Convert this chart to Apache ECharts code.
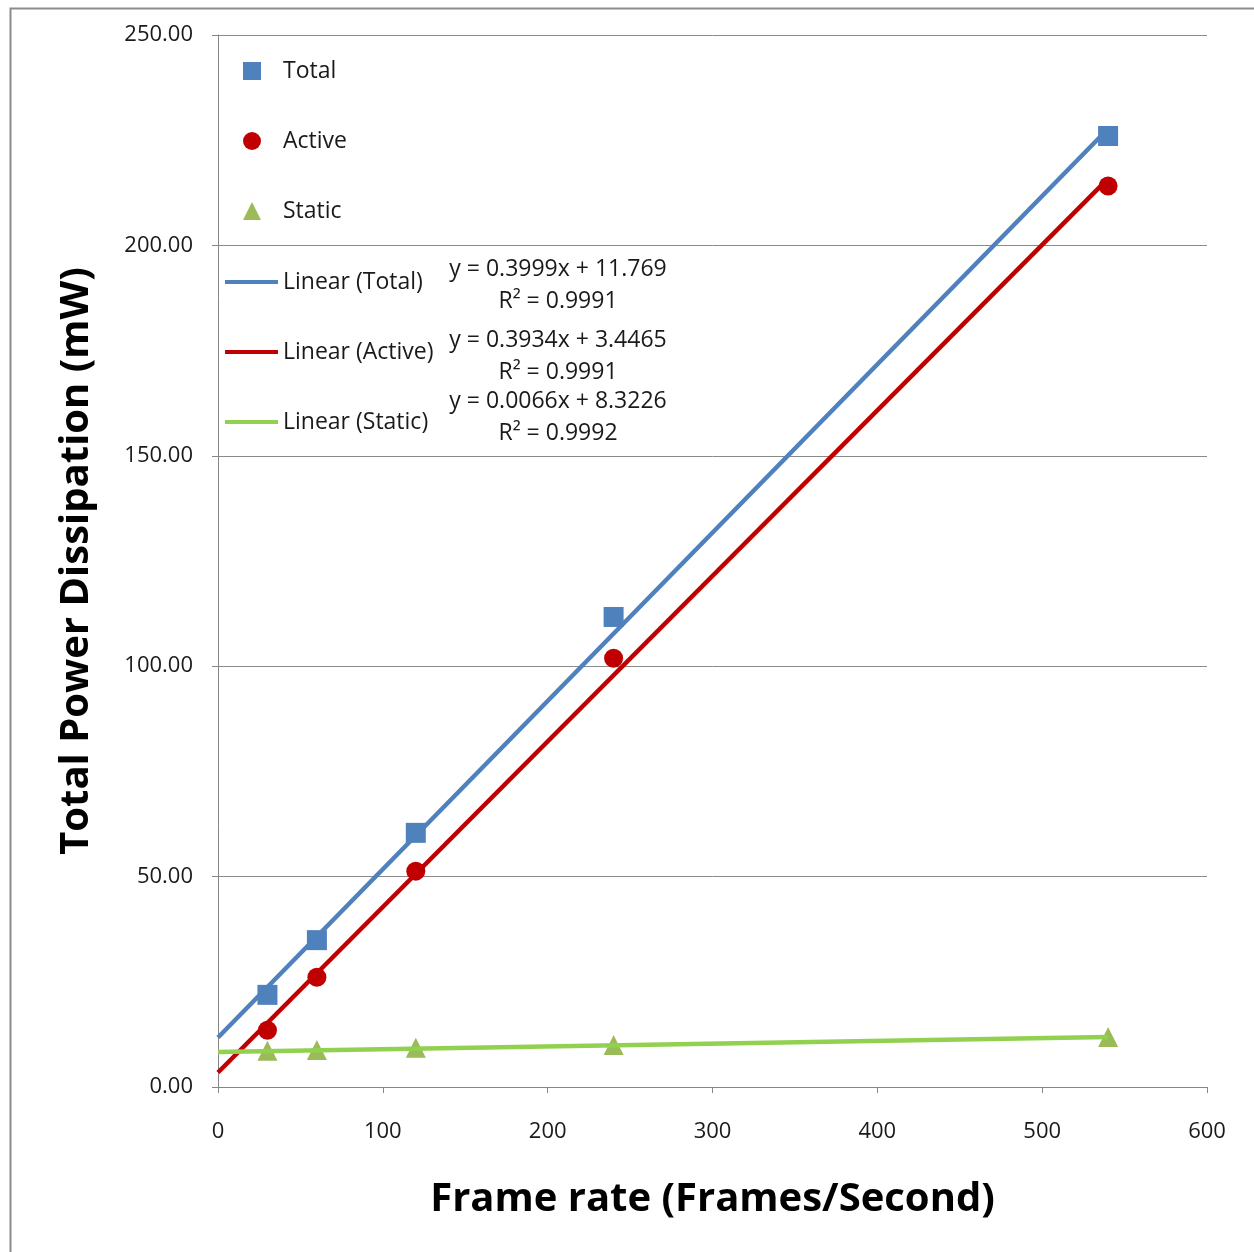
<!DOCTYPE html>
<html><head><meta charset="utf-8">
<script src="https://cdn.jsdelivr.net/npm/echarts@6/dist/echarts.min.js"></script>
<style>html,body{margin:0;padding:0;background:#fff}#c{width:1254px;height:1252px}</style>
</head><body><div id="c"></div>
<script>
// Data
const frameRates = [30, 60, 120, 240, 540];
const totalPower = [21.9, 34.9, 60.4, 111.7, 226.0];
const activePower = [13.5, 26.1, 51.3, 101.9, 214.1];
const staticPower = [8.6, 8.8, 9.3, 10.0, 11.9];
// Trendline endpoints (x = 0 and x = 540), from the fitted equations shown
const trendX = [0, 540];
const trendTotal = [11.769, 227.72];
const trendActive = [3.4465, 215.88];
const trendStatic = [8.3226, 11.887];
const equations = [
  ['y = 0.3999x + 11.769', 'R² = 0.9991'],
  ['y = 0.3934x + 3.4465', 'R² = 0.9991'],
  ['y = 0.0066x + 8.3226', 'R² = 0.9992']
];
const markerNames = ['Total', 'Active', 'Static'];
const trendNames = ['Linear (Total)', 'Linear (Active)', 'Linear (Static)'];

const FONT = 'Open Sans';
const pair = (xs, ys) => xs.map((x, i) => [x, ys[i]]);
const chart = echarts.init(document.getElementById('c'), null, {renderer: 'canvas'});

const eqGraphics = [];
const eqY = [269, 340, 401];
equations.forEach((e, i) => {
  eqGraphics.push({type: 'text', x: 558, y: eqY[i],
    style: {text: e[0], font: '23px "' + FONT + '"', fill: '#1a1a1a', align: 'center', verticalAlign: 'middle'}});
  eqGraphics.push({type: 'text', x: 558, y: eqY[i] + 32,
    style: {text: e[1], font: '23px "' + FONT + '"', fill: '#1a1a1a', align: 'center', verticalAlign: 'middle'}});
});

const legendText = {fontFamily: FONT, fontSize: 23, color: '#1a1a1a', lineHeight: 26};

chart.setOption({
  animation: false,
  backgroundColor: '#fff',
  grid: {left: 218, right: 47, top: 35, bottom: 165, containLabel: false},
  xAxis: {
    type: 'value', min: 0, max: 600, interval: 100,
    axisLine: {show: true, lineStyle: {color: '#868686', width: 1}},
    axisTick: {show: true, length: 6, lineStyle: {color: '#868686'}},
    splitLine: {show: false},
    axisLabel: {color: '#1a1a1a', fontFamily: FONT, fontSize: 22, margin: 34},
    name: 'Frame rate (Frames/Second)', nameLocation: 'middle', nameGap: 93,
    nameTextStyle: {color: '#000', fontFamily: FONT, fontWeight: 'bold', fontSize: 40}
  },
  yAxis: {
    type: 'value', min: 0, max: 250, interval: 50,
    axisLine: {show: true, lineStyle: {color: '#868686', width: 1}},
    axisTick: {show: true, length: 6, lineStyle: {color: '#868686'}},
    splitLine: {show: true, lineStyle: {color: '#8a8a8a', width: 1}},
    axisLabel: {color: '#1a1a1a', fontFamily: FONT, fontSize: 22, margin: 25,
      formatter: v => v.toFixed(2)},
    name: 'Total Power Dissipation (mW)', nameLocation: 'middle', nameGap: 121,
    nameTextStyle: {color: '#000', fontFamily: FONT, fontWeight: 'bold', fontSize: 40}
  },
  legend: [
    {orient: 'vertical', left: 238, top: 53, itemWidth: 18, itemHeight: 18, itemGap: 44,
     textStyle: Object.assign({padding: [0, 0, 0, 17]}, legendText),
     data: markerNames},
    {orient: 'vertical', left: 220, top: 264, itemWidth: 53, itemHeight: 4, itemGap: 44,
     icon: 'rect', textStyle: legendText, data: trendNames}
  ],
  series: [
    {name: 'Total', type: 'scatter', symbol: 'rect', symbolSize: 20, z: 2,
     itemStyle: {color: '#4F81BD', opacity: 1}, data: pair(frameRates, totalPower)},
    {name: 'Active', type: 'scatter', symbol: 'circle', symbolSize: 19, z: 2,
     itemStyle: {color: '#C00000', opacity: 1}, data: pair(frameRates, activePower)},
    {name: 'Static', type: 'scatter', symbol: 'triangle', symbolSize: 20, z: 2,
     itemStyle: {color: '#9BBB59', opacity: 1}, data: pair(frameRates, staticPower)},
    {name: 'Linear (Total)', type: 'line', symbol: 'none', z: 3,
     lineStyle: {color: '#4F81BD', width: 4.5}, itemStyle: {color: '#4F81BD'},
     data: pair(trendX, trendTotal)},
    {name: 'Linear (Active)', type: 'line', symbol: 'none', z: 3,
     lineStyle: {color: '#C00000', width: 4.5}, itemStyle: {color: '#C00000'},
     data: pair(trendX, trendActive)},
    {name: 'Linear (Static)', type: 'line', symbol: 'none', z: 3,
     lineStyle: {color: '#92D050', width: 4.5}, itemStyle: {color: '#92D050'},
     data: pair(trendX, trendStatic)}
  ],
  graphic: [
    {type: 'rect', left: 8, top: 6, z: -10,
     shape: {width: 1260, height: 1260},
     style: {fill: 'none', stroke: '#8c8c8c', lineWidth: 2}}
  ].concat(eqGraphics)
});
</script></body></html>
